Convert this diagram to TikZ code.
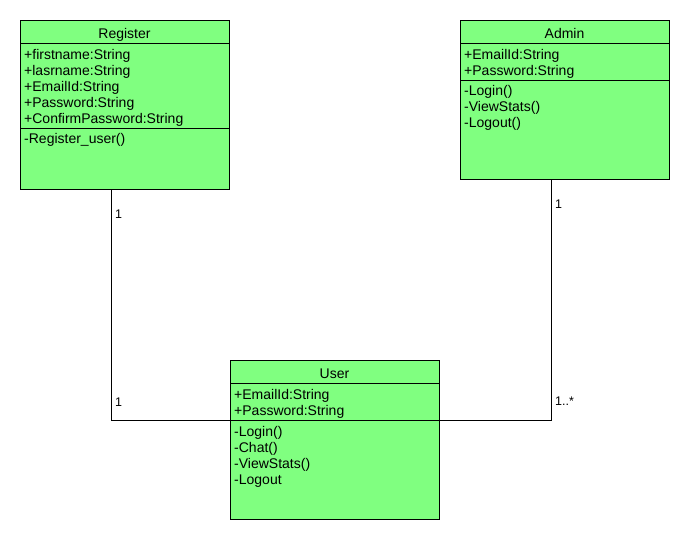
\documentclass[tikz,border=0pt]{standalone}
\usepackage{fontspec}
\setmainfont{Liberation Sans}
\definecolor{umlgreen}{RGB}{128,255,128}
\begin{document}
\begin{tikzpicture}[x=1pt,y=-1pt,
  cls/.style={draw=black, fill=umlgreen, line width=0.9pt, anchor=north west, minimum width=209, inner sep=0pt},
  sep/.style={draw=black, line width=0.9pt},
  conn/.style={draw=black, line width=0.9pt},
  title/.style={anchor=base, inner sep=0pt, font=\fontsize{14}{16}\selectfont},
  txt/.style={anchor=base west, inner sep=0pt, font=\fontsize{14}{16}\selectfont},
  mult/.style={anchor=base west, inner sep=0pt, font=\fontsize{12.5}{14}\selectfont}]
\useasboundingbox (0,0) rectangle (690,540);
\fill[white] (0,0) rectangle (690,540);

% Register
\node[cls, minimum height=169] (reg) at (20,20) {};
\draw[sep] (reg.west |- 0,43) -- (reg.east |- 0,43);
\draw[sep] (reg.west |- 0,128) -- (reg.east |- 0,128);
\node[title] (regt) at (124.5,38.3) {Register};
\node[txt] (ra1) at (24,59.3) {+firstname:String};
\node[txt] (ra2) at (24,75.3) {+lasrname:String};
\node[txt] (ra3) at (24,91.3) {+EmailId:String};
\node[txt] (ra4) at (24,107.3) {+Password:String};
\node[txt] (ra5) at (24,123.3) {+ConfirmPassword:String};
\node[txt] (rm1) at (24,144) {-Register\_user()};

% Admin
\node[cls, minimum height=159] (adm) at (460,20) {};
\draw[sep] (adm.west |- 0,43) -- (adm.east |- 0,43);
\draw[sep] (adm.west |- 0,80) -- (adm.east |- 0,80);
\node[title] (admt) at (564.5,38.3) {Admin};
\node[txt] (aa1) at (464,59.3) {+EmailId:String};
\node[txt] (aa2) at (464,75.3) {+Password:String};
\node[txt] (am1) at (464,96) {-Login()};
\node[txt] (am2) at (464,112) {-ViewStats()};
\node[txt] (am3) at (464,128) {-Logout()};

% User
\node[cls, minimum height=159] (usr) at (230,360) {};
\draw[sep] (usr.west |- 0,383) -- (usr.east |- 0,383);
\draw[sep] (usr.west |- 0,420) -- (usr.east |- 0,420);
\node[title] (usrt) at (334.5,378.3) {User};
\node[txt] (ua1) at (234,399.3) {+EmailId:String};
\node[txt] (ua2) at (234,415.3) {+Password:String};
\node[txt] (um1) at (234,436) {-Login()};
\node[txt] (um2) at (234,452) {-Chat()};
\node[txt] (um3) at (234,468) {-ViewStats()};
\node[txt] (um4) at (234,484) {-Logout};

% connectors
\coordinate (rj) at (111,420);
\coordinate (aj) at (551,420);
\draw[conn] (reg.south -| rj) -- (rj) -- (usr.west |- rj);
\draw[conn] (adm.south -| aj) -- (aj) -- (usr.east |- aj);

% multiplicities
\node[mult] (m1) at (115,218) {1};
\node[mult] (m2) at (115,406) {1};
\node[mult] (m3) at (555,208) {1};
\node[mult] (m4) at (555,405) {1..*};
\end{tikzpicture}
\end{document}
